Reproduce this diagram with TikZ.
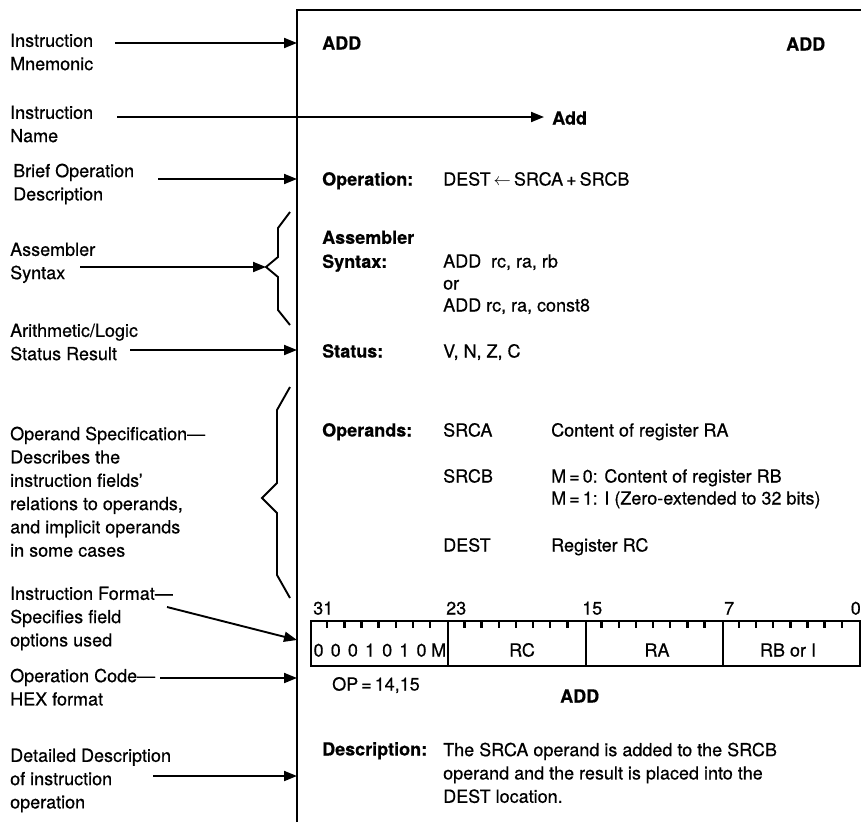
\documentclass[tikz,border=0pt]{standalone}
\usepackage{fontspec}
\setmainfont{TeX Gyre Heros}[FakeBold=0.5]
\usetikzlibrary{arrows.meta}
\begin{document}
\begin{tikzpicture}[x=1pt,y=-1pt,
  every node/.style={inner sep=0pt, font=\fontsize{18}{23.3}\selectfont},
  lbl/.style={align=left, anchor=north west},
  txt/.style={anchor=base west},
  btxt/.style={anchor=base west, font=\fontsize{18}{23.3}\selectfont\bfseries},
  arr/.style={line width=1.9pt, -{Triangle[length=13pt,width=10pt]}},
  frm/.style={line width=2.8pt},
  brc/.style={line width=1.9pt, line join=miter},
  fld/.style={draw, line width=2pt, minimum width=137.25pt, minimum height=45pt, anchor=north west},
  tick/.style={line width=2.4pt}
]
\useasboundingbox (0,0) rectangle (861,822);

% frame
\coordinate (fb) at (297,822);
\coordinate (ft) at (297,10);
\coordinate (fr) at (861,10);
\draw[frm] (fb) -- (ft) -- (fr);

% left labels
\node[lbl] (mnem) at (10,33.5) {Instruction\\Mnemonic};
\node[lbl] (iname) at (10,105.5) {Instruction\\Name};
\node[lbl] (brief) at (13,163.5) {Brief Operation\\Description};
\node[lbl] (asm) at (10,242.5) {Assembler\\Syntax};
\node[lbl] (arith) at (10,323.5) {Arithmetic/Logic\\Status Result};
\node[lbl] (opspec) at (10,426.5) {Operand Specification---\\Describes the\\instruction fields'\\relations to operands,\\and implicit operands\\in some cases};
\node[lbl] (instf) at (10,586.5) {Instruction Format---\\Specifies field\\options used};
\node[lbl] (opcode) at (10,668.5) {Operation Code---\\HEX format};
\node[lbl] (detail) at (10,748.5) {Detailed Description\\of instruction\\operation};

% arrow endpoints
\coordinate (s1) at (115,43);  \coordinate (e1) at (297,43);
\coordinate (s2) at (117,117); \coordinate (e2) at (544,117);
\coordinate (s3) at (158,179); \coordinate (e3) at (297,179);
\coordinate (s4) at (80,267);  \coordinate (e4) at (266,267);
\coordinate (s5) at (130,350); \coordinate (e5) at (297,350);
\coordinate (s6) at (167,607); \coordinate (e6) at (297,640);
\coordinate (s7) at (160,678); \coordinate (e7) at (297,678);
\coordinate (s8) at (153,776); \coordinate (e8) at (297,776);
\draw[arr] (s1) -- (e1);
\draw[arr] (s2) -- (e2);
\draw[arr] (s3) -- (e3);
\draw[arr] (s4) -- (e4);
\draw[arr] (s5) -- (e5);
\draw[arr] (s6) -- (e6);
\draw[arr] (s7) -- (e7);
\draw[arr] (s8) -- (e8);

% braces
\draw[brc] (290,212) -- (278,228) -- (278,257) -- (266,267) -- (278,277) -- (278,310) -- (290,325);
\draw[brc] (290,387) -- (277,410) -- (277,483) -- (262,498) -- (277,513) -- (277,575) -- (290,598);

% right side content
\node[btxt] (mnemL) at (322,49.5) {ADD};
\node[btxt] (mnemR) at (786,50.5) {ADD};
\node[btxt] (addn) at (552,124.5) {Add};
\node[btxt] (oph) at (322,185.5) {Operation:};
\node[txt] (opt) at (443,185.5) {DEST\,$\leftarrow$\,SRCA\,+\,SRCB};
\node[lbl, font=\fontsize{18}{24}\selectfont\bfseries] (asmh) at (322,230.5) {Assembler\\Syntax:};
\node[txt] (asm1) at (443,267.5) {ADD\hspace{0.55em}rc, ra, rb};
\node[txt] (asm2) at (443,289.5) {or};
\node[txt] (asm3) at (443,311.5) {ADD rc, ra, const8};
\node[btxt] (sth) at (322,357.5) {Status:};
\node[txt] (stt) at (443,357.5) {V, N, Z, C};
\node[btxt] (oph2) at (322,436.5) {Operands:};
\node[txt] (srca) at (443,436.5) {SRCA};
\node[txt] (srcat) at (551,436.5) {Content of register RA};
\node[txt] (srcb) at (443,482.5) {SRCB};
\node[txt] (srcbt1) at (551,482.5) {M\,=\,0: Content of register RB};
\node[txt] (srcbt2) at (551,504.5) {M\,=\,1: I (Zero-extended to 32 bits)};
\node[txt] (dest) at (443,551.5) {DEST};
\node[txt] (destt) at (551,551.5) {Register RC};

% instruction format
\node[txt] (b31) at (313,614.5) {31};
\node[txt] (b23) at (446,614.5) {23};
\node[txt] (b15) at (582,614.5) {15};
\node[txt] (b7) at (724,614.5) {7};
\node[anchor=base east] (b0) at (861,614.5) {0};
\node[fld] (f1) at (310,620) {};
\node[fld] (f2) at (447.25,620) {};
\node[fld] (f3) at (584.5,620) {};
\node[fld] (f4) at (721.75,620) {};
\foreach \f in {0,...,3}
  \foreach \k in {1,...,7}
    \draw[tick] ({310+\f*137.25+\k*17.156},620) -- ++(0,8);
\foreach \b [count=\i from 0] in {0,0,0,1,0,1,0,M}
  \node[anchor=base] (bit\i) at ({310+(\i+0.5)*17.156},656.5) {\b};
\node[anchor=base] (rc) at (522,656.5) {RC};
\node[anchor=base] (ra) at (657,656.5) {RA};
\node[anchor=base] (rb) at (788,656.5) {RB or I};
\node[txt] (opc) at (332,690.5) {OP\,=\,14,15};
\node[btxt] (addb) at (560,702.5) {ADD};

% description
\node[btxt] (desch) at (322,755.5) {Description:};
\node[lbl] (desct) at (443,742.5) {The SRCA operand is added to the SRCB\\operand and the result is placed into the\\DEST location.};
\end{tikzpicture}
\end{document}
